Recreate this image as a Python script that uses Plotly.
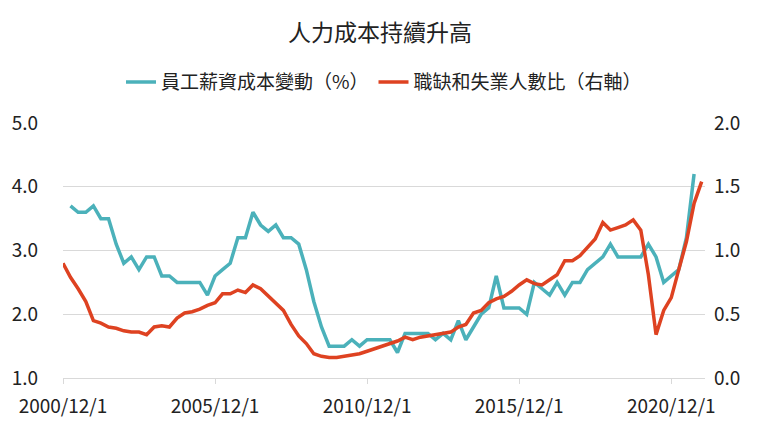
import pandas as pd
import plotly.graph_objects as go

# ---- data ----
wage_start = "2001-03-01"   # quarterly
wage_cost_change = [3.7, 3.6, 3.6, 3.7, 3.5, 3.5, 3.1, 2.8, 2.9, 2.7, 2.9, 2.9, 2.6, 2.6, 2.5, 2.5,
                    2.5, 2.5, 2.3, 2.6, 2.7, 2.8, 3.2, 3.2, 3.6, 3.4, 3.3, 3.4, 3.2, 3.2, 3.1, 2.7,
                    2.2, 1.8, 1.5, 1.5, 1.5, 1.6, 1.5, 1.6, 1.6, 1.6, 1.6, 1.4, 1.7, 1.7, 1.7, 1.7,
                    1.6, 1.7, 1.6, 1.9, 1.6, 1.8, 2.0, 2.1, 2.6, 2.1, 2.1, 2.1, 2.0, 2.5, 2.4, 2.3,
                    2.5, 2.3, 2.5, 2.5, 2.7, 2.8, 2.9, 3.1, 2.9, 2.9, 2.9, 2.9, 3.1, 2.9, 2.5, 2.6,
                    2.7, 3.2, 4.2]

ratio_start = "2000-12-01"  # quarterly
openings_unemployed_ratio = [0.90, 0.79, 0.70, 0.60, 0.45, 0.43, 0.40, 0.39, 0.37, 0.36, 0.36, 0.34,
                             0.40, 0.41, 0.40, 0.47, 0.51, 0.52, 0.54, 0.57, 0.59, 0.66, 0.66, 0.69,
                             0.67, 0.73, 0.70, 0.64, 0.59, 0.53, 0.42, 0.33, 0.27, 0.19, 0.17, 0.16,
                             0.16, 0.17, 0.18, 0.19, 0.21, 0.23, 0.25, 0.27, 0.29, 0.32, 0.30, 0.32,
                             0.33, 0.34, 0.35, 0.36, 0.40, 0.42, 0.51, 0.53, 0.59, 0.62, 0.64, 0.68,
                             0.73, 0.77, 0.74, 0.73, 0.77, 0.81, 0.92, 0.92, 0.96, 1.02, 1.09, 1.22,
                             1.16, 1.18, 1.20, 1.24, 1.16, 0.81, 0.34, 0.53, 0.63, 0.85, 1.07, 1.37,
                             1.54]

tick_dates = ["2000-12-01", "2005-12-01", "2010-12-01", "2015-12-01", "2020-12-01"]
tick_labels = ["2000/12/1", "2005/12/1", "2010/12/1", "2015/12/1", "2020/12/1"]

title_text = "人力成本持續升高"
name_wage = "員工薪資成本變動（%）"
name_ratio = "職缺和失業人數比（右軸）"

wage_dates = pd.date_range(wage_start, periods=len(wage_cost_change), freq="3MS")
ratio_dates = pd.date_range(ratio_start, periods=len(openings_unemployed_ratio), freq="3MS")

FONT = "Noto Sans CJK TC"
TEAL = "#4BB1BA"
RED = "#DE4221"
GRID = "#D9D9D9"
TXT = "#222222"
TICK_SIZE = 19

fig = go.Figure()
fig.add_trace(go.Scatter(x=wage_dates, y=wage_cost_change, name=name_wage, mode="lines",
                         line=dict(color=TEAL, width=3.5), yaxis="y"))
fig.add_trace(go.Scatter(x=ratio_dates, y=openings_unemployed_ratio, name=name_ratio, mode="lines",
                         line=dict(color=RED, width=3.5), yaxis="y2"))

fig.update_layout(
    width=760, height=430,
    margin=dict(l=63, r=55, t=123, b=50),
    paper_bgcolor="white", plot_bgcolor="white",
    font=dict(family=FONT, color=TXT, size=TICK_SIZE),
    title=dict(text=title_text, x=0.5, xanchor="center", y=1 - 33 / 430, yanchor="middle",
               font=dict(size=23, color=TXT, family=FONT)),
    legend=dict(orientation="h", x=0.5, xanchor="center", y=1.16, yanchor="middle",
                font=dict(size=19, color=TXT, family=FONT), bgcolor="rgba(0,0,0,0)",
                itemwidth=30, tracegroupgap=0),
    showlegend=True,
    xaxis=dict(type="date", range=["2000-12-01", "2022-01-10"], tickvals=tick_dates,
               ticktext=tick_labels, showgrid=False, showline=True, linecolor=GRID, linewidth=1,
               ticks="outside", ticklen=5, tickcolor=GRID, zeroline=False,
               ticklabelstandoff=6,
               tickfont=dict(size=TICK_SIZE, color=TXT)),
    yaxis=dict(range=[1, 5], dtick=1, tickformat=".1f", showgrid=True, gridcolor=GRID,
               gridwidth=1, zeroline=False, showline=False, ticks="", ticklabelstandoff=24,
               tickfont=dict(size=TICK_SIZE, color=TXT)),
    yaxis2=dict(range=[0, 2], dtick=0.5, tickformat=".1f", overlaying="y", side="right",
                showgrid=False, zeroline=False, showline=False, ticks="", ticklabelstandoff=8,
                tickfont=dict(size=TICK_SIZE, color=TXT)),
)

fig.write_html("out.html")
